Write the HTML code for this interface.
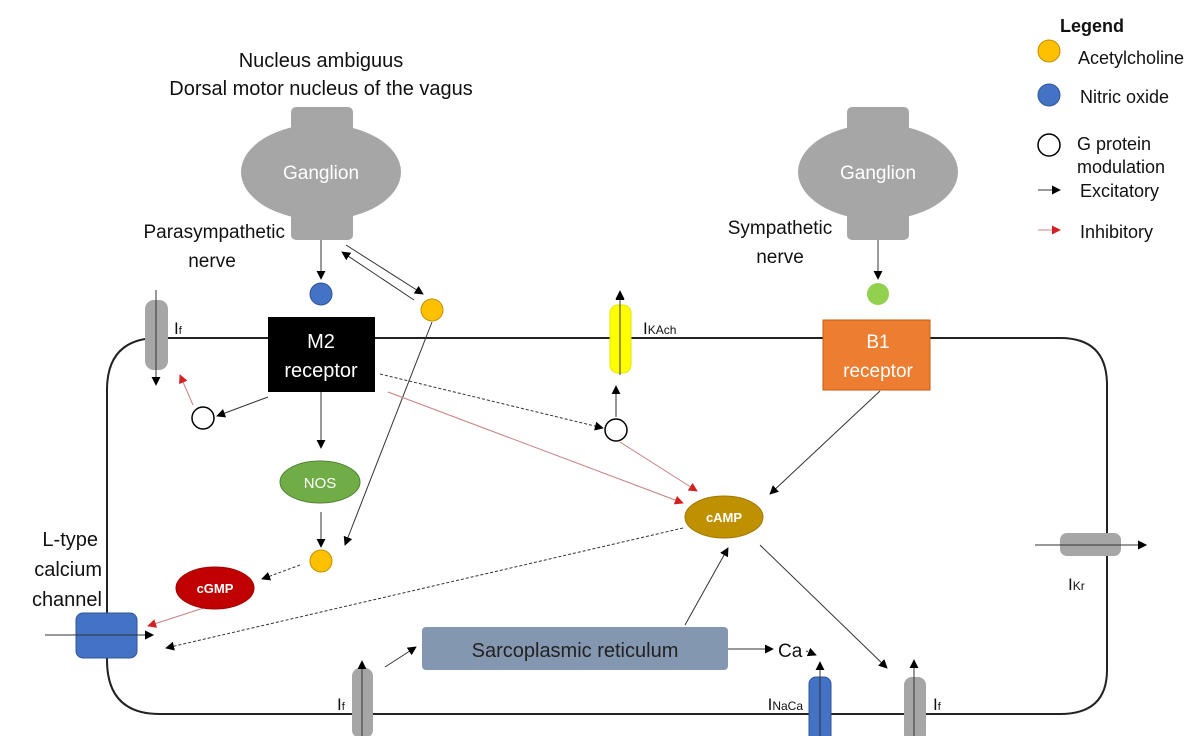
<!DOCTYPE html>
<html><head><meta charset="utf-8"><style>
html,body{margin:0;padding:0;background:#fff;}
svg{display:block;}
text{font-family:"Liberation Sans",sans-serif;}
</style></head><body>
<svg width="1200" height="736" viewBox="0 0 1200 736" xmlns="http://www.w3.org/2000/svg">
<defs>
<marker id="ab" viewBox="0 0 10 10" refX="9" refY="5" markerWidth="9" markerHeight="9" markerUnits="userSpaceOnUse" orient="auto"><path d="M0,0L10,5L0,10z" fill="#000"/></marker>
<marker id="ar" viewBox="0 0 10 10" refX="9" refY="5" markerWidth="9" markerHeight="9" markerUnits="userSpaceOnUse" orient="auto"><path d="M0,0L10,5L0,10z" fill="#d42020"/></marker>
</defs>
<!-- cell membrane -->
<path d="M155,338 L1060,338 Q1107,338 1107,385 L1107,670 Q1107,714 1060,714 L160,714 Q107,714 107,660 L107,390 Q107,340 155,338" fill="none" stroke="#222" stroke-width="2"/>

<!-- titles -->
<text x="321" y="67" font-size="20" text-anchor="middle" fill="#111">Nucleus ambiguus</text>
<text x="321" y="95" font-size="20" text-anchor="middle" fill="#111">Dorsal motor nucleus of the vagus</text>

<!-- ganglions -->
<g fill="#a6a6a6">
<rect x="291" y="107" width="62" height="30" rx="5"/>
<ellipse cx="321" cy="172" rx="80" ry="48"/>
<rect x="291" y="205" width="62" height="35" rx="5"/>
<rect x="847" y="107" width="62" height="30" rx="5"/>
<ellipse cx="878" cy="172" rx="80" ry="48"/>
<rect x="847" y="205" width="62" height="35" rx="5"/>
</g>
<text x="321" y="179" font-size="19" text-anchor="middle" fill="#fff">Ganglion</text>
<text x="878" y="179" font-size="19" text-anchor="middle" fill="#fff">Ganglion</text>

<text x="285" y="238" font-size="19" text-anchor="end" fill="#111">Parasympathetic</text>
<text x="212" y="267" font-size="19" text-anchor="middle" fill="#111">nerve</text>
<text x="780" y="234" font-size="19" text-anchor="middle" fill="#111">Sympathetic</text>
<text x="780" y="263" font-size="19" text-anchor="middle" fill="#111">nerve</text>

<!-- connectors -->
<g stroke="#333" stroke-width="1" fill="none">
<line x1="321" y1="240" x2="321" y2="279" marker-end="url(#ab)"/>
<line x1="346" y1="245" x2="423" y2="294" marker-end="url(#ab)"/>
<line x1="414" y1="300" x2="342" y2="252" marker-end="url(#ab)"/>
<line x1="878" y1="240" x2="878" y2="279" marker-end="url(#ab)"/>
<line x1="321" y1="392" x2="321" y2="448" marker-end="url(#ab)"/>
<line x1="321" y1="512" x2="321" y2="547" marker-end="url(#ab)"/>
<line x1="432" y1="322" x2="345" y2="545" marker-end="url(#ab)"/>
<line x1="300" y1="565" x2="262" y2="579" stroke-dasharray="3,2" marker-end="url(#ab)"/>
<line x1="268" y1="397" x2="217" y2="416" marker-end="url(#ab)"/>
<line x1="45" y1="635" x2="153" y2="635" marker-end="url(#ab)"/>
<line x1="683" y1="528" x2="166" y2="648" stroke-dasharray="3,2" marker-end="url(#ab)"/>
<line x1="380" y1="374" x2="603" y2="428" stroke-dasharray="3,2" marker-end="url(#ab)"/>
<line x1="616" y1="417" x2="616" y2="386" marker-end="url(#ab)"/>
<line x1="620" y1="375" x2="620" y2="291" marker-end="url(#ab)"/>
<line x1="880" y1="391" x2="770" y2="494" marker-end="url(#ab)"/>
<line x1="685" y1="625" x2="728" y2="548" marker-end="url(#ab)"/>
<line x1="728" y1="649" x2="773" y2="649" marker-end="url(#ab)"/>
<line x1="806" y1="651" x2="816" y2="655" stroke-dasharray="2,2" marker-end="url(#ab)"/>
<line x1="760" y1="545" x2="887" y2="668" marker-end="url(#ab)"/>
<line x1="385" y1="667" x2="416" y2="647" marker-end="url(#ab)"/>
<line x1="1035" y1="545" x2="1146" y2="545" marker-end="url(#ab)"/>
</g>
<g stroke="#c98080" stroke-width="1" fill="none">
<line x1="216" y1="604" x2="148" y2="626" marker-end="url(#ar)"/>
<line x1="193" y1="405" x2="180" y2="375" marker-end="url(#ar)"/>
<line x1="388" y1="392" x2="683" y2="503" marker-end="url(#ar)"/>
<line x1="620" y1="442" x2="697" y2="491" marker-end="url(#ar)"/>
</g>

<!-- channels -->
<rect x="145" y="300" width="23" height="70" rx="9" fill="#a6a6a6"/>
<line x1="156" y1="290" x2="156" y2="385" stroke="#333" stroke-width="1" marker-end="url(#ab)"/>
<text x="174" y="334" font-size="17" fill="#111">I<tspan font-size="11">f</tspan></text>

<rect x="610" y="305" width="21" height="68" rx="8" fill="#ffff00" stroke="#e6e600"/>
<line x1="620" y1="375" x2="620" y2="292" stroke="#333" stroke-width="1" marker-end="url(#ab)"/>
<text x="643" y="334" font-size="17" fill="#111">I<tspan font-size="12">KAch</tspan></text>

<rect x="352" y="668" width="21" height="70" rx="8" fill="#a6a6a6"/>
<line x1="362" y1="736" x2="362" y2="661" stroke="#333" stroke-width="1" marker-end="url(#ab)"/>
<text x="337" y="710" font-size="17" fill="#111">I<tspan font-size="11">f</tspan></text>

<rect x="809" y="677" width="22" height="65" rx="7" fill="#4472c4" stroke="#2f5597"/>
<line x1="820" y1="736" x2="820" y2="662" stroke="#333" stroke-width="1" marker-end="url(#ab)"/>
<text x="803" y="710" font-size="17" text-anchor="end" fill="#111">I<tspan font-size="12">NaCa</tspan></text>

<rect x="904" y="677" width="22" height="65" rx="8" fill="#a6a6a6"/>
<line x1="914" y1="736" x2="914" y2="660" stroke="#333" stroke-width="1" marker-end="url(#ab)"/>
<text x="933" y="710" font-size="17" fill="#111">I<tspan font-size="11">f</tspan></text>

<rect x="1060" y="533" width="61" height="23" rx="7" fill="#a6a6a6"/>
<line x1="1035" y1="545" x2="1146" y2="545" stroke="#333" stroke-width="1" marker-end="url(#ab)"/>
<text x="1068" y="590" font-size="17" fill="#111">I<tspan font-size="12">Kr</tspan></text>

<rect x="76" y="613" width="61" height="45" rx="7" fill="#4472c4" stroke="#2f5597"/>
<line x1="45" y1="635" x2="153" y2="635" stroke="#333" stroke-width="1" marker-end="url(#ab)"/>
<text x="98" y="546" font-size="20" text-anchor="end" fill="#111">L-type</text>
<text x="102" y="576" font-size="20" text-anchor="end" fill="#111">calcium</text>
<text x="102" y="606" font-size="20" text-anchor="end" fill="#111">channel</text>

<!-- receptors -->
<rect x="268" y="317" width="107" height="75" fill="#000"/>
<text x="321" y="348" font-size="20" text-anchor="middle" fill="#fff">M2</text>
<text x="321" y="377" font-size="20" text-anchor="middle" fill="#fff">receptor</text>
<rect x="823" y="320" width="107" height="70" fill="#ed7d31" stroke="#c55a11"/>
<text x="878" y="348" font-size="19" text-anchor="middle" fill="#fff">B1</text>
<text x="878" y="377" font-size="19" text-anchor="middle" fill="#fff">receptor</text>

<!-- ellipses -->
<ellipse cx="320" cy="482" rx="40" ry="21" fill="#70ad47" stroke="#548235"/>
<text x="320" y="488" font-size="15" text-anchor="middle" fill="#fff">NOS</text>
<ellipse cx="215" cy="588" rx="39" ry="21" fill="#c00000" stroke="#a00000"/>
<text x="215" y="593" font-size="13" font-weight="bold" text-anchor="middle" fill="#fff">cGMP</text>
<ellipse cx="724" cy="517" rx="39" ry="21" fill="#bf9000" stroke="#a07800"/>
<text x="724" y="522" font-size="13" font-weight="bold" text-anchor="middle" fill="#fff">cAMP</text>

<!-- SR -->
<rect x="422" y="627" width="306" height="43" rx="4" fill="#8497b0"/>
<text x="575" y="657" font-size="20" text-anchor="middle" fill="#222">Sarcoplasmic reticulum</text>
<text x="778" y="657" font-size="19" fill="#111">Ca</text>

<!-- dots -->
<circle cx="321" cy="294" r="11" fill="#4472c4" stroke="#2f5597"/>
<circle cx="432" cy="310" r="11" fill="#ffc000" stroke="#bf9000"/>
<circle cx="321" cy="561" r="11" fill="#ffc000" stroke="#bf9000"/>
<circle cx="878" cy="294" r="11" fill="#92d050"/>
<circle cx="203" cy="418" r="11" fill="#fff" stroke="#000" stroke-width="1.5"/>
<circle cx="616" cy="430" r="11" fill="#fff" stroke="#000" stroke-width="1.5"/>

<!-- legend -->
<text x="1060" y="32" font-size="18" font-weight="bold" fill="#111">Legend</text>
<circle cx="1049" cy="51" r="11" fill="#ffc000" stroke="#bf9000"/>
<text x="1078" y="64" font-size="18" fill="#111">Acetylcholine</text>
<circle cx="1049" cy="95" r="11" fill="#4472c4" stroke="#2f5597"/>
<text x="1080" y="103" font-size="18" fill="#111">Nitric oxide</text>
<circle cx="1049" cy="145" r="11" fill="#fff" stroke="#000" stroke-width="1.5"/>
<text x="1077" y="150" font-size="18" fill="#111">G protein</text>
<text x="1077" y="173" font-size="18" fill="#111">modulation</text>
<line x1="1038" y1="190" x2="1060" y2="190" stroke="#333" stroke-width="1" marker-end="url(#ab)"/>
<text x="1080" y="197" font-size="18" fill="#111">Excitatory</text>
<line x1="1038" y1="230" x2="1060" y2="230" stroke="#c98080" stroke-width="1" marker-end="url(#ar)"/>
<text x="1080" y="238" font-size="18" fill="#111">Inhibitory</text>
</svg>
</body></html>
